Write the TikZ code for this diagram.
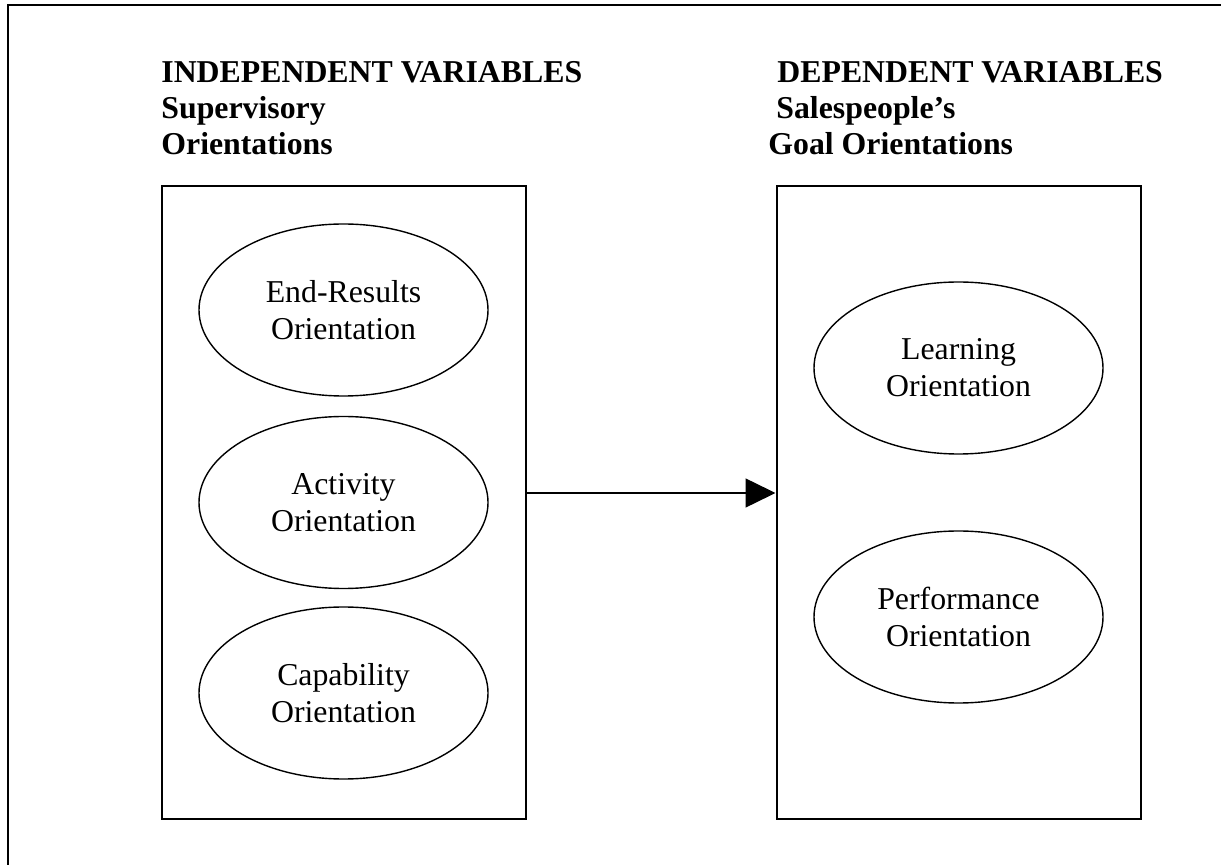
\documentclass[tikz,border=0pt]{standalone}
\usepackage{fontspec}
\setmainfont{Liberation Serif}
\usetikzlibrary{shapes.geometric,arrows.meta}
\tikzset{
  head/.style={anchor=base west,inner sep=0pt,font=\fontsize{15.9}{18.5}\selectfont\bfseries},
  varbox/.style={draw,line width=1pt,rectangle,minimum width=182pt,minimum height=316.5pt,inner sep=0pt},
  oval/.style={draw,line width=0.7pt,ellipse,minimum width=144.5pt,minimum height=86pt,inner sep=0pt,align=center,font=\fontsize{15.9}{18.5}\selectfont},
  link/.style={line width=0.75pt,-{Triangle[length=15pt,width=14.5pt]}}
}
\begin{document}
\begin{tikzpicture}[x=0.5pt,y=-0.5pt]
\useasboundingbox (0,0) rectangle (1221,865);
\draw[line width=1pt] (8,870) -- (8,5) -- (1230,5);
% headers
\node[head] (h1) at (161,83) {INDEPENDENT VARIABLES};
\node[head] (h2) at (161,119) {Supervisory};
\node[head] (h3) at (161,155) {Orientations};
\node[head] (h4) at (777,83) {DEPENDENT VARIABLES};
\node[head] (h5) at (776,119) {Salespeople’s};
\node[head] (h6) at (768,155) {Goal Orientations};
% boxes
\node[varbox] (lbox) at (344,502.5) {};
\node[varbox] (rbox) at (958.5,502.5) {};
% ellipses
\node[oval] (e1) at (343.5,310) {End-Results\\Orientation};
\node[oval] (e2) at (343.5,502.5) {Activity\\Orientation};
\node[oval] (e3) at (343.5,693) {Capability\\Orientation};
\node[oval] (e4) at (958.5,368) {Learning\\Orientation};
\node[oval] (e5) at (958.5,617) {Performance\\Orientation};
% arrow
\draw[link] ([yshift=4.75pt]lbox.east) -- ([yshift=4.75pt]rbox.west);
\end{tikzpicture}
\end{document}
